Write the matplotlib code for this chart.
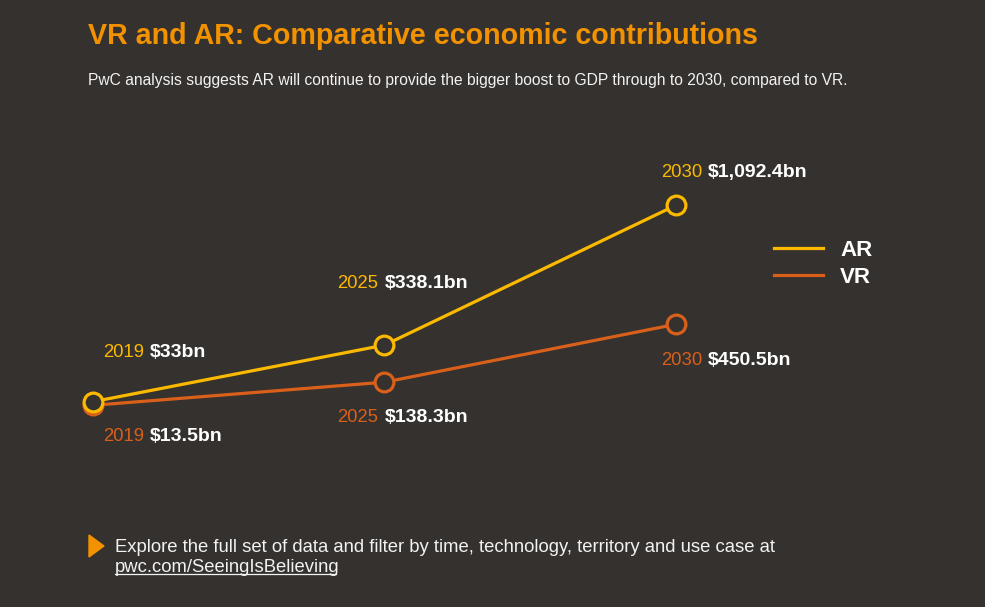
import matplotlib.pyplot as plt
from matplotlib.lines import Line2D
from matplotlib.patches import Polygon

plt.rcParams['font.family'] = ['Liberation Sans', 'DejaVu Sans']

years = ['2019', '2025', '2030']
ar_values = [33, 338.1, 1092.4]
vr_values = [13.5, 138.3, 450.5]
ar_labels = ['$33bn', '$338.1bn', '$1,092.4bn']
vr_labels = ['$13.5bn', '$138.3bn', '$450.5bn']

BG = '#35312e'
ORANGE = '#f39200'
AR_COL = '#fbb900'
VR_COL = '#d9601a'
TXT = '#f2f2f2'

fig = plt.figure(figsize=(9.85, 6.07), dpi=100, facecolor=BG)
ax = fig.add_axes([0, 0, 1, 1])
ax.set_facecolor(BG)
ax.set_axis_off()
ax.set_xlim(-0.319, 3.060)
ax.set_ylim(-1074, 2199)

x = list(range(len(years)))
for vals, col in [(vr_values, VR_COL), (ar_values, AR_COL)]:
    ax.plot(x, vals, color=col, lw=2.3, marker='o', ms=13.5, mfc=BG,
            mec=col, mew=2.3, zorder=3)

# label offsets in pixels (year text left edge, vertical centre)
ar_off = [(10, 49), (-47, 62), (-15, 33)]
vr_off = [(10, -31), (-47, -35), (-15, -36)]


def label(xi, yi, year, value, col, off):
    t = ax.annotate(year, (xi, yi), xytext=off, textcoords='offset pixels',
                    color=col, fontsize=13.3, ha='left', va='center')
    ax.annotate(value, xy=(1, 0), xycoords=t, xytext=(6, 0),
                textcoords='offset pixels', color='white', fontsize=14,
                fontweight='bold', ha='left', va='bottom')


for i in x:
    label(i, ar_values[i], years[i], ar_labels[i], AR_COL, ar_off[i])
    label(i, vr_values[i], years[i], vr_labels[i], VR_COL, vr_off[i])

handles = [Line2D([], [], color=AR_COL, lw=2.3), Line2D([], [], color=VR_COL, lw=2.3)]
leg = fig.legend(handles, ['AR', 'VR'], loc='upper left',
                 bbox_to_anchor=(774 / 985, 1 - 239.5 / 607), frameon=False,
                 prop={'size': 16, 'weight': 'bold'}, labelcolor='white',
                 handlelength=2.2, handletextpad=0.78, labelspacing=0.29,
                 borderpad=0, borderaxespad=0)

fig.text(88 / 985, 1 - 36 / 607, 'VR and AR: Comparative economic contributions',
         color=ORANGE, fontsize=20.65, fontweight='bold', ha='left', va='center')
fig.text(88 / 985, 1 - 81 / 607,
         'PwC analysis suggests AR will continue to provide the bigger boost to GDP '
         'through to 2030, compared to VR.',
         color=TXT, fontsize=11.27, ha='left', va='center')

tri = Polygon([(89 / 985, 1 - 535 / 607), (89 / 985, 1 - 557 / 607), (104 / 985, 1 - 546 / 607)],
              closed=True, color=ORANGE, transform=fig.transFigure)
fig.add_artist(tri)
fig.text(115 / 985, 1 - 547 / 607,
         'Explore the full set of data and filter by time, technology, territory and use case at',
         color=TXT, fontsize=13.3, ha='left', va='center')
link = fig.text(115 / 985, 1 - 568 / 607, 'pwc.com/SeeingIsBelieving',
                color=TXT, fontsize=13.3, ha='left', va='center')

fig.canvas.draw()
bb = link.get_window_extent().transformed(fig.transFigure.inverted())
fig.add_artist(Line2D([bb.x0, bb.x1 - 4 / 985], [bb.y0 + 0.004, bb.y0 + 0.004], color=TXT,
                      lw=0.9, transform=fig.transFigure))

fig.savefig('out.png', dpi=100, facecolor=BG)
